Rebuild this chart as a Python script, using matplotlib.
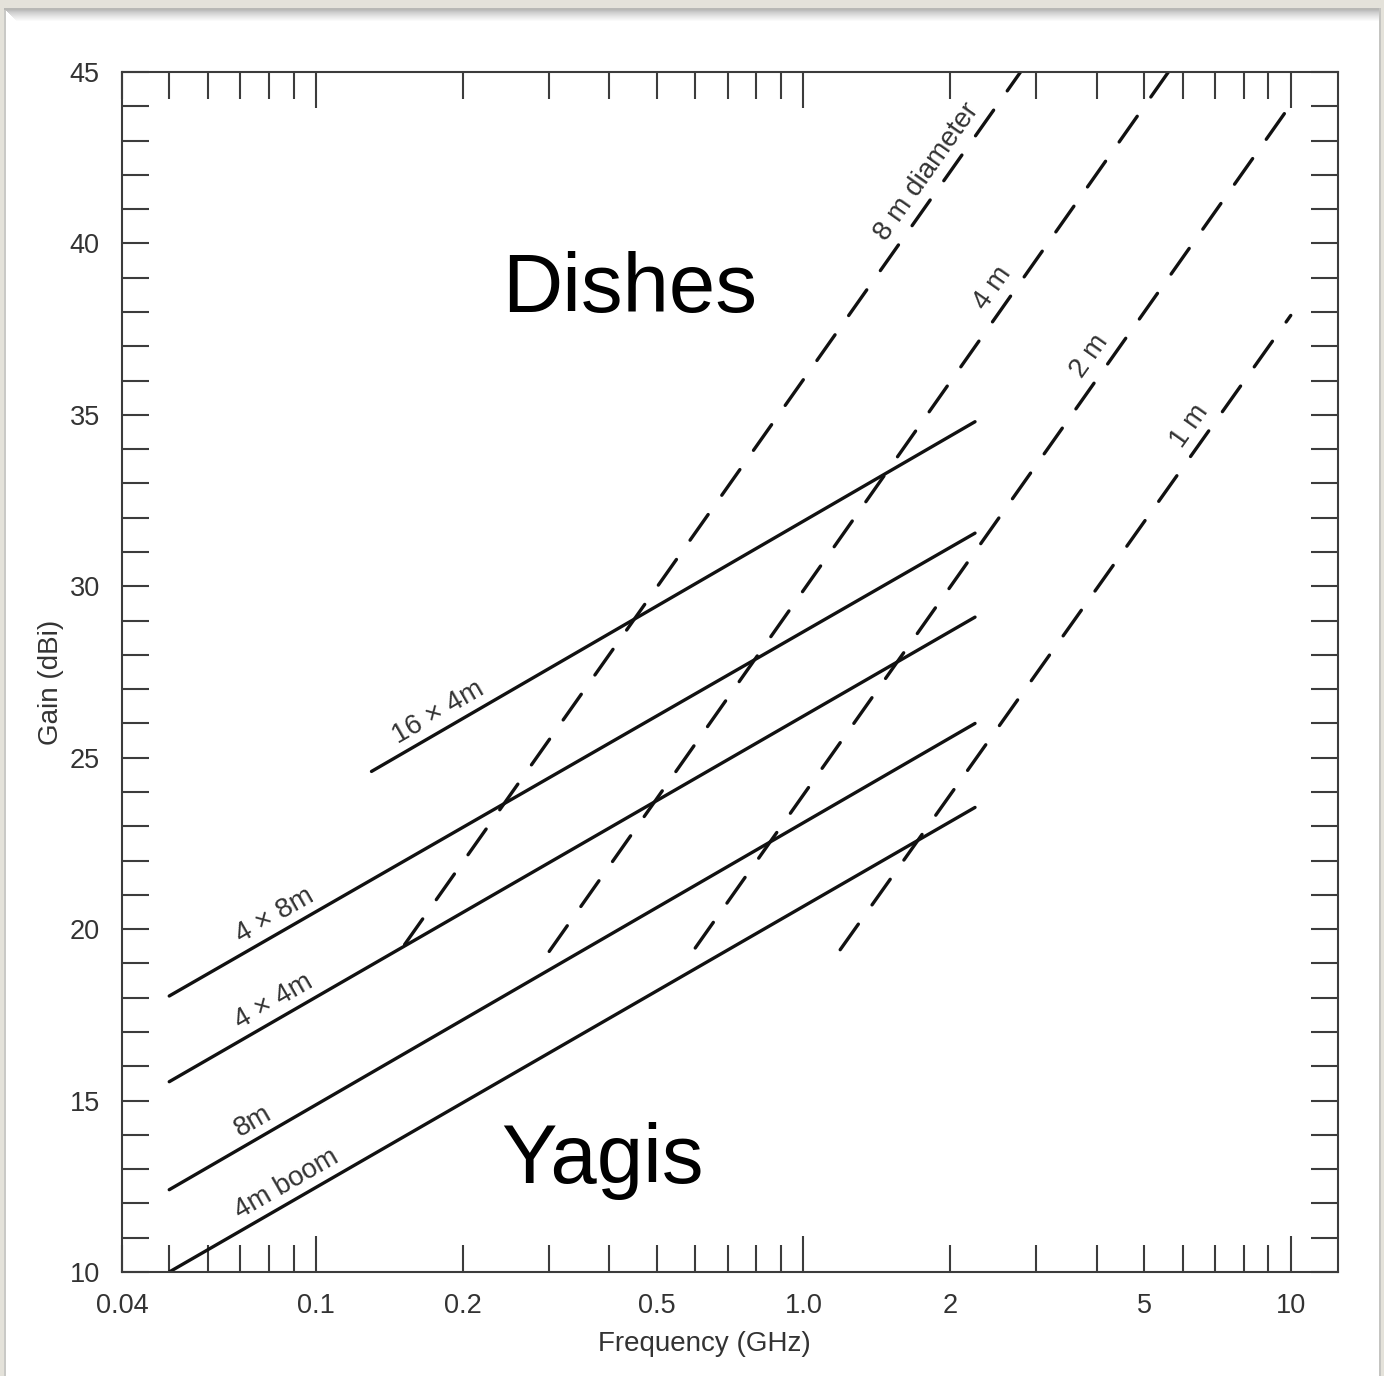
import numpy as np
import matplotlib
matplotlib.use("Agg")
import matplotlib.pyplot as plt
from matplotlib.patches import Rectangle
from matplotlib.ticker import FixedLocator, FixedFormatter

plt.rcParams["font.family"] = ["Liberation Sans", "DejaVu Sans"]
plt.rcParams["lines.scale_dashes"] = False

# ---- Yagi arrays (solid lines): frequency in GHz, gain in dBi ----
yagi_names = ["4m boom", "8m", "4 \u00d7 4m", "4 \u00d7 8m", "16 \u00d7 4m"]
yagi_f_start = [0.050, 0.050, 0.050, 0.050, 0.130]
yagi_g_start = [10.0, 12.4, 15.55, 18.05, 24.6]
yagi_f_end = [2.25, 2.25, 2.25, 2.25, 2.25]
yagi_g_end = [23.55, 26.0, 29.1, 31.55, 34.8]
yagi_label_f = [0.0906, 0.0773, 0.0855, 0.0856, 0.1855]

# ---- Dish antennas (dashed lines) ----
dish_names = ["8 m diameter", "4 m", "2 m", "1 m"]
dish_f_start = [0.152, 0.301, 0.600, 1.19]
dish_g_start = [19.55, 19.35, 19.45, 19.4]
dish_f_end = [2.79, 5.61, 10.0, 10.0]
dish_g_end = [45.0, 45.0, 44.05, 37.9]
dish_label_f = [1.93, 2.635, 4.17, 6.66]

# ---- axis ticks ----
x_major = [0.1, 1.0, 10.0]
x_major_labels = ["0.1", "1.0", "10"]
x_minor = [0.04, 0.05, 0.06, 0.07, 0.08, 0.09,
           0.2, 0.3, 0.4, 0.5, 0.6, 0.7, 0.8, 0.9,
           2, 3, 4, 5, 6, 7, 8, 9]
x_minor_labels = ["0.04", "", "", "", "", "",
                  "0.2", "", "", "0.5", "", "", "", "",
                  "2", "", "", "5", "", "", "", ""]
y_major = [10, 15, 20, 25, 30, 35, 40, 45]
y_minor = list(range(10, 46))

W, H = 1384, 1376
fig = plt.figure(figsize=(W / 100, H / 100), dpi=100)
fig.patch.set_facecolor("white")

# ---- page frame around the figure ----
beige = "#e4e2da"
def px_rect(x0, y0, x1, y1, color):
    fig.add_artist(Rectangle((x0 / W, 1 - y1 / H), (x1 - x0) / W, (y1 - y0) / H,
                             transform=fig.transFigure, facecolor=color,
                             edgecolor="none", zorder=0))

px_rect(0, 0, W, 8, beige)
px_rect(0, 0, 4, H, beige)
px_rect(1381, 0, W, H, beige)
px_rect(4, 8, 6, H, "#c9c9c6")
px_rect(4, 8, 1381, 10, "#b8b8b5")
px_rect(1379, 8, 1381, H, "#c4c4c1")
for k in range(12):
    c = 0.74 + (1.0 - 0.74) * (k / 11.0) ** 0.8
    px_rect(6 + k, 10 + k, 1379, 11 + k, (c, c, c))

ax = fig.add_axes([122 / W, (H - 1272) / H, (1338 - 122) / W, (1272 - 72) / H])
ax.set_xscale("log")
ax.set_xlim(0.04, 12.5)
ax.set_ylim(10, 45)

line_color = "#111111"
text_color = "#333333"

for f0, g0, f1, g1 in zip(yagi_f_start, yagi_g_start, yagi_f_end, yagi_g_end):
    ax.plot([f0, f1], [g0, g1], color=line_color, lw=2.4, solid_capstyle="round")

for f0, g0, f1, g1 in zip(dish_f_start, dish_g_start, dish_f_end, dish_g_end):
    ax.plot([f0, f1], [g0, g1], color=line_color, lw=2.4,
            linestyle=(0, (22.6, 17.0)), dash_capstyle="round")


def label_line(text, f0, g0, f1, g1, f_lab, off_px, size=20):
    p0 = ax.transData.transform((f0, g0))
    p1 = ax.transData.transform((f1, g1))
    ang = np.arctan2(p1[1] - p0[1], p1[0] - p0[0])
    t = (np.log10(f_lab) - np.log10(f0)) / (np.log10(f1) - np.log10(f0))
    g = g0 + t * (g1 - g0)
    off_pt = off_px * 72.0 / 100.0
    ox, oy = -np.sin(ang) * off_pt, np.cos(ang) * off_pt
    ax.annotate(text, xy=(f_lab, g), xytext=(ox, oy), textcoords="offset points",
                rotation=np.degrees(ang), rotation_mode="anchor",
                ha="center", va="center", fontsize=size, color=text_color)


for name, f0, g0, f1, g1, fl in zip(yagi_names, yagi_f_start, yagi_g_start,
                                     yagi_f_end, yagi_g_end, yagi_label_f):
    label_line(name, f0, g0, f1, g1, fl, 17.5)

for name, f0, g0, f1, g1, fl in zip(dish_names, dish_f_start, dish_g_start,
                                     dish_f_end, dish_g_end, dish_label_f):
    label_line(name, f0, g0, f1, g1, fl, 19.0)

ax.text(0.441, 38.0, "Dishes", fontsize=60, color="black", ha="center", va="baseline")
ax.text(0.3867, 12.6, "Yagis", fontsize=60, color="black", ha="center", va="baseline")

# ---- ticks ----
ax.xaxis.set_major_locator(FixedLocator(x_major))
ax.xaxis.set_major_formatter(FixedFormatter(x_major_labels))
ax.xaxis.set_minor_locator(FixedLocator(x_minor))
ax.xaxis.set_minor_formatter(FixedFormatter(x_minor_labels))
ax.yaxis.set_major_locator(FixedLocator(y_major))
ax.yaxis.set_minor_locator(FixedLocator(y_minor))

spine_color = "#3c3c3c"
for s in ax.spines.values():
    s.set_color(spine_color)
    s.set_linewidth(1.5)

ax.tick_params(axis="both", which="both", direction="in", top=True, right=True,
               color=spine_color, width=1.5, labelcolor=text_color, labelsize=19.5)
ax.tick_params(axis="x", which="major", length=26, pad=15)
ax.tick_params(axis="x", which="minor", length=19.4, pad=15)
ax.tick_params(axis="y", which="both", length=19.4, pad=16)

ax.set_xlabel("Frequency (GHz)", fontsize=20, color=text_color)
ax.set_ylabel("Gain (dBi)", fontsize=20, color=text_color)
ax.xaxis.set_label_coords(0.4786, -0.0495)
ax.yaxis.set_label_coords(-0.0477, 0.4917)

fig.savefig("out.png", dpi=100)
